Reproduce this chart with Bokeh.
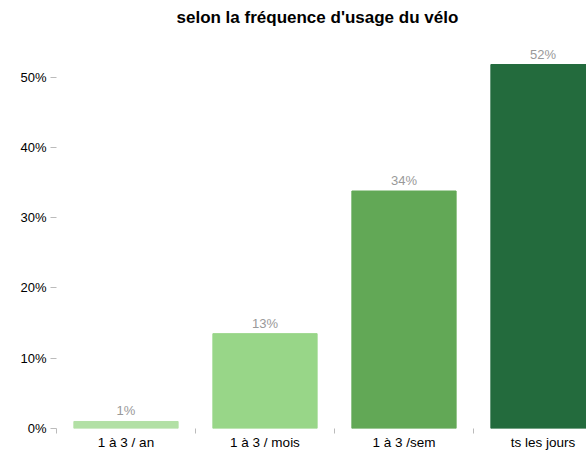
from bokeh.plotting import figure
from bokeh.models import ColumnDataSource, Range1d, FixedTicker, NumeralTickFormatter
from bokeh.core.properties import value
from bokeh.embed import file_html
from bokeh.resources import INLINE

categories = ["1 à 3 / an", "1 à 3 / mois", "1 à 3 /sem", "ts les jours"]
shares = [0.01, 0.135, 0.338, 0.518]
share_labels = ["1%", "13%", "34%", "52%"]
colors = ["#b2e0a5", "#98d688", "#62a856", "#236b3d"]
y_ticks = [0.0, 0.1, 0.2, 0.3, 0.4, 0.5]

xs = [i + 0.5 for i in range(len(categories))]
src = ColumnDataSource(dict(x=xs, top=shares, lab=share_labels, color=colors))

FONT = "Liberation Sans"

p = figure(width=586, height=452, x_range=Range1d(0, 3.813), y_range=Range1d(0, 0.565),
           output_backend="svg", toolbar_location=None,
           min_border_left=56, min_border_right=0, min_border_bottom=24, min_border_top=25)
p.title.text = "selon la fréquence d'usage du vélo"
p.title.align = "left"
p.title.offset = 120
p.title.text_font = FONT
p.title.text_font_size = "17px"
p.title.text_font_style = "bold"
p.title.text_color = "#000000"

p.vbar(x="x", top="top", bottom=0, width=0.75, color="color", source=src)
p.text(x="x", y="top", text="lab", source=src, text_align="center", text_baseline="bottom",
       y_offset=-3, text_color="#999999", text_font=value(FONT), text_font_size="13px")

p.xgrid.visible = False
p.ygrid.visible = False
p.outline_line_color = None

xa = p.xaxis[0]
xa.ticker = FixedTicker(ticks=xs, minor_ticks=list(range(len(categories) + 1)))
xa.major_label_overrides = {x: c for x, c in zip(xs, categories)}
xa.axis_line_color = None
xa.major_tick_line_color = None
xa.minor_tick_out = 5
xa.minor_tick_in = 0
xa.minor_tick_line_color = "#bbbbbb"
xa.major_label_standoff = 0
xa.major_label_text_font = FONT
xa.major_label_text_font_size = "13.5px"
xa.major_label_text_color = "#000000"

ya = p.yaxis[0]
ya.ticker = FixedTicker(ticks=y_ticks, minor_ticks=[])
ya.formatter = NumeralTickFormatter(format="0%")
ya.axis_line_color = None
ya.major_tick_out = 6
ya.major_tick_in = 0
ya.major_tick_line_color = "#bbbbbb"
ya.major_label_standoff = 4
ya.major_label_text_font = FONT
ya.major_label_text_font_size = "13px"
ya.major_label_text_color = "#000000"

open("out.html", "w").write(file_html(p, INLINE))
